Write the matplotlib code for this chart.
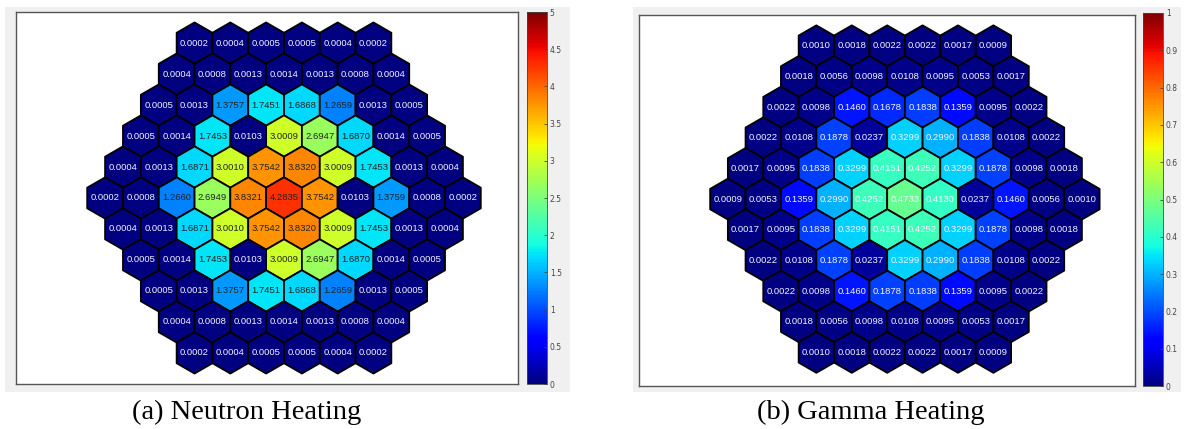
import numpy as np
import matplotlib
matplotlib.use("Agg")
from matplotlib import pyplot as plt
from matplotlib.patches import RegularPolygon, Rectangle
from matplotlib.collections import PatchCollection
from matplotlib.colors import Normalize

# Core heating per assembly, rows top to bottom
neutron_rows = [
    [0.0002, 0.0004, 0.0005, 0.0005, 0.0004, 0.0002],
    [0.0004, 0.0008, 0.0013, 0.0014, 0.0013, 0.0008, 0.0004],
    [0.0005, 0.0013, 1.3757, 1.7451, 1.6868, 1.2659, 0.0013, 0.0005],
    [0.0005, 0.0014, 1.7453, 0.0103, 3.0009, 2.6947, 1.6870, 0.0014, 0.0005],
    [0.0004, 0.0013, 1.6871, 3.0010, 3.7542, 3.8320, 3.0009, 1.7453, 0.0013, 0.0004],
    [0.0002, 0.0008, 1.2660, 2.6949, 3.8321, 4.2835, 3.7542, 0.0103, 1.3759, 0.0008, 0.0002],
    [0.0004, 0.0013, 1.6871, 3.0010, 3.7542, 3.8320, 3.0009, 1.7453, 0.0013, 0.0004],
    [0.0005, 0.0014, 1.7453, 0.0103, 3.0009, 2.6947, 1.6870, 0.0014, 0.0005],
    [0.0005, 0.0013, 1.3757, 1.7451, 1.6868, 1.2659, 0.0013, 0.0005],
    [0.0004, 0.0008, 0.0013, 0.0014, 0.0013, 0.0008, 0.0004],
    [0.0002, 0.0004, 0.0005, 0.0005, 0.0004, 0.0002],
]
gamma_rows = [
    [0.0010, 0.0018, 0.0022, 0.0022, 0.0017, 0.0009],
    [0.0018, 0.0056, 0.0098, 0.0108, 0.0095, 0.0053, 0.0017],
    [0.0022, 0.0098, 0.1460, 0.1678, 0.1838, 0.1359, 0.0095, 0.0022],
    [0.0022, 0.0108, 0.1878, 0.0237, 0.3299, 0.2990, 0.1838, 0.0108, 0.0022],
    [0.0017, 0.0095, 0.1838, 0.3299, 0.4151, 0.4252, 0.3299, 0.1878, 0.0098, 0.0018],
    [0.0009, 0.0053, 0.1359, 0.2990, 0.4252, 0.4733, 0.4130, 0.0237, 0.1460, 0.0056, 0.0010],
    [0.0017, 0.0095, 0.1838, 0.3299, 0.4151, 0.4252, 0.3299, 0.1878, 0.0098, 0.0018],
    [0.0022, 0.0108, 0.1878, 0.0237, 0.3299, 0.2990, 0.1838, 0.0108, 0.0022],
    [0.0022, 0.0098, 0.1460, 0.1878, 0.1838, 0.1359, 0.0095, 0.0022],
    [0.0018, 0.0056, 0.0098, 0.0108, 0.0095, 0.0053, 0.0017],
    [0.0010, 0.0018, 0.0022, 0.0022, 0.0017, 0.0009],
]
neutron_ticks = [0, 0.5, 1, 1.5, 2, 2.5, 3, 3.5, 4, 4.5, 5]
gamma_ticks = [0, 0.1, 0.2, 0.3, 0.4, 0.5, 0.6, 0.7, 0.8, 0.9, 1]

W, H = 1186, 429
fig = plt.figure(figsize=(W / 100, H / 100), dpi=100)
fig.patch.set_facecolor("white")


def px_box(x0, y0, x1, y1):
    # pixel box (top-left origin) -> figure fraction rect
    return [x0 / W, 1 - y1 / H, (x1 - x0) / W, (y1 - y0) / H]


def hex_map(ax, rows, vmax, xlim, ylim, dark_text_above=None):
    norm = Normalize(0, vmax)
    patches, vals = [], []
    nrow = len(rows)
    mid = (nrow - 1) / 2
    for r, row in enumerate(rows):
        y = (mid - r) * np.sqrt(3) / 2
        n = len(row)
        for i, v in enumerate(row):
            x = i - (n - 1) / 2
            patches.append(RegularPolygon((x, y), 6, radius=1 / np.sqrt(3), orientation=0))
            vals.append(v)
            color = "#f4f4ff"
            if dark_text_above is not None and v > dark_text_above:
                color = "#222222"
            ax.text(x, y, f"{v:.4f}", ha="center", va="center", fontsize=6.8,
                    family="Liberation Sans", color=color)
    pc = PatchCollection(patches, cmap="jet", norm=norm, edgecolor="black", linewidth=1.3)
    pc.set_array(np.array(vals))
    ax.add_collection(pc)
    ax.set_xlim(*xlim)
    ax.set_ylim(*ylim)
    ax.set_xticks([])
    ax.set_yticks([])
    for s in ax.spines.values():
        s.set_color("#555555")
        s.set_linewidth(1.0)
    return pc


def colorbar(cax, pc, ticks):
    cb = fig.colorbar(pc, cax=cax, ticks=ticks)
    cb.ax.set_yticklabels([f"{t:g}" for t in ticks])
    cb.ax.tick_params(labelsize=5.5, length=2, width=0.6, direction="in", pad=2,
                      colors="#444444")
    cb.outline.set_linewidth(0.6)
    cb.outline.set_edgecolor("#444444")


# gray panel backgrounds
for x0, x1 in [(5, 570), (633, 1181)]:
    fig.patches.append(Rectangle((x0 / W, 1 - 392 / H), (x1 - x0) / W, (392 - 7) / H,
                                 transform=fig.transFigure, facecolor="#f0f0f0",
                                 edgecolor="none", zorder=-10))

# (a) neutron heating
ax1 = fig.add_axes(px_box(16, 12, 518, 384))
pc1 = hex_map(ax1, neutron_rows, 5, (-7.49, 6.54), (-5.20, 5.20), dark_text_above=1.0)
cax1 = fig.add_axes(px_box(527, 12, 547, 384))
colorbar(cax1, pc1, neutron_ticks)

# (b) gamma heating
ax2 = fig.add_axes(px_box(639, 15, 1135, 386))
pc2 = hex_map(ax2, gamma_rows, 1, (-7.51, 6.50), (-5.28, 5.20))
cax2 = fig.add_axes(px_box(1143, 13, 1163, 386))
colorbar(cax2, pc2, gamma_ticks)

fig.text(247 / W, 1 - 412 / H, "(a) Neutron Heating", ha="center", va="center",
         fontsize=20.5, family="Liberation Serif")
fig.text(871 / W, 1 - 412 / H, "(b) Gamma Heating", ha="center", va="center",
         fontsize=20.5, family="Liberation Serif")

fig.savefig("out.png", dpi=100)
